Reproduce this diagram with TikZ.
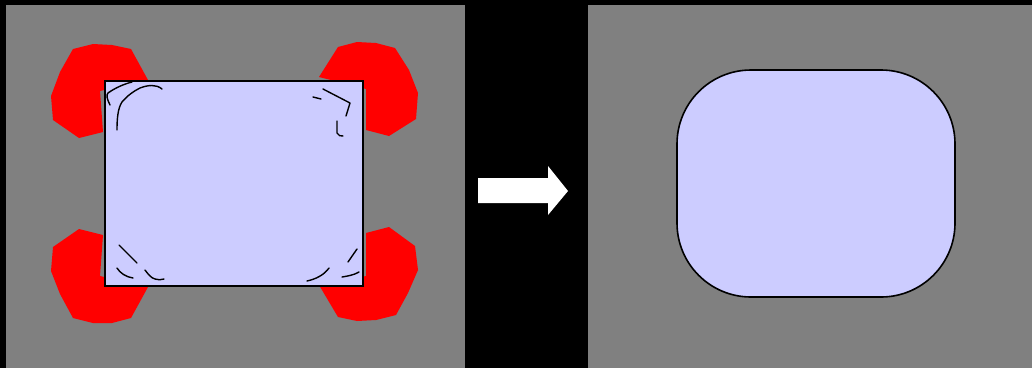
\documentclass[tikz,border=0pt]{standalone}
\definecolor{panelgray}{HTML}{808080}
\definecolor{lav}{HTML}{CCCCFF}
\begin{document}
\begin{tikzpicture}[x=1pt,y=-1pt,
  panel/.style={fill=panelgray},
  blob/.style={fill=red},
  pen/.style={draw=black,line width=1.4pt,line cap=round,line join=round},
  sheet/.style={draw=black,fill=lav,line width=1.6pt}]
\fill[black] (0,0) rectangle (1032,368);
\useasboundingbox (0,0) rectangle (1032,368);
% panels
\fill[panel] (6,5) rectangle (465,368);
\fill[panel] (588,5) rectangle (1032,368);
% red blobs
\fill[blob] (100,91) -- (103,132) -- (79,138) -- (53,120) -- (51,96) -- (60,72) -- (73,49) -- (93,44) -- (112,45) -- (131,49) -- (148,80) -- cycle;
\fill[blob] (366,89) -- (319,77) -- (338,47) -- (357,42) -- (376,43) -- (395,48) -- (409,70) -- (418,93) -- (416,119) -- (389,136) -- (366,130) -- cycle;
\fill[blob] (100,276) -- (103,235) -- (79,229) -- (53,247) -- (51,271) -- (60,294) -- (73,318) -- (93,323) -- (112,323) -- (131,318) -- (148,287) -- cycle;
\fill[blob] (366,276) -- (366,233) -- (389,227) -- (415,246) -- (418,270) -- (408,293) -- (396,315) -- (376,320) -- (357,321) -- (338,317) -- (319,285) -- cycle;
% square
\node[sheet,minimum width=258pt,minimum height=205pt,inner sep=0pt] (sq) at (234,183.5) {};
% pens top-left
\draw[pen] (110,105) .. controls (107,99) and (106,95) .. (108,93) .. controls (115,88) and (124,84) .. (132,82);
\draw[pen] (117,130) .. controls (117,118) and (118,108) .. (122,102) .. controls (128,95) and (134,91) .. (140,88) .. controls (148,85) and (156,84) .. (162,89);
% pens top-right
\draw[pen] (313,97) -- (321,99);
\draw[pen] (323,89) -- (350,103) -- (346,116);
\draw[pen] (337,121) -- (337,133) .. controls (338,136) and (341,136) .. (343,136);
% pens bottom-left
\draw[pen] (119,245) -- (137,263);
\draw[pen] (117,268) .. controls (120,273) and (126,277) .. (133,278);
\draw[pen] (145,270) .. controls (148,274) and (151,278) .. (155,279) .. controls (158,280) and (161,280) .. (164,279);
% pens bottom-right
\draw[pen] (357,249) -- (348,262);
\draw[pen] (329,268) .. controls (324,275) and (316,279) .. (307,281);
\draw[pen] (342,277) .. controls (348,276) and (354,275) .. (359,272);
% arrow
\fill[white] (478,178) -- (548,178) -- (548,166) -- (568,191) -- (548,215) -- (548,203) -- (478,203) -- cycle;
% rounded result
\node[sheet,rounded corners=74pt,minimum width=278pt,minimum height=227pt,inner sep=0pt] (result) at (816,183.5) {};
\end{tikzpicture}
\end{document}
